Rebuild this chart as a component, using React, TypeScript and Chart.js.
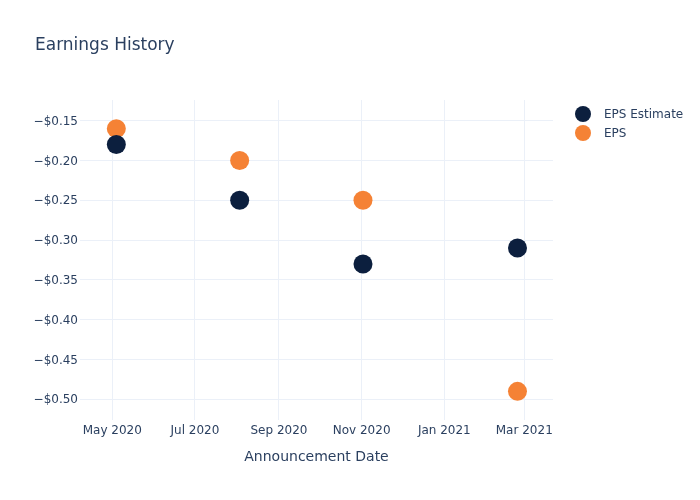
import React, { useEffect, useRef } from 'react';
import { Chart, registerables } from 'chart.js';

Chart.register(...registerables);

// ---- Data ----
const announcementDates = ['2020-05-04', '2020-08-03', '2020-11-02', '2021-02-24'];
const epsEstimate = [-0.18, -0.25, -0.33, -0.31];
const epsActual = [-0.16, -0.2, -0.25, -0.49];
const seriesNames = ['EPS Estimate', 'EPS'];
const yTickValues = [-0.5, -0.45, -0.4, -0.35, -0.3, -0.25, -0.2, -0.15];
const xTickDates = ['2020-05-01', '2020-07-01', '2020-09-01', '2020-11-01', '2021-01-01', '2021-03-01'];
const monthNames = ['Jan', 'Feb', 'Mar', 'Apr', 'May', 'Jun', 'Jul', 'Aug', 'Sep', 'Oct', 'Nov', 'Dec'];
const chartTitle = 'Earnings History';
const xAxisTitle = 'Announcement Date';

// ---- Styles ----
const seriesColors = ['#0c1f3e', '#f58235'];
const textColor = '#2a3f5f';
const gridColor = '#ebf0f8';
const fontFamily = '"DejaVu Sans", Verdana, sans-serif';

const DAY = 86400000;
const xMin = Date.parse('2020-05-01') - 23.8 * DAY;
const xMax = Date.parse('2021-03-01') + 21.2 * DAY;
const yMin = -0.526;
const yMax = -0.124;

const toPoints = (vals: number[]) =>
  vals.map((v, i) => ({ x: Date.parse(announcementDates[i]), y: v }));

const fmtMoney = (v: number) => {
  const s = '$' + Math.abs(v).toFixed(2);
  return v < 0 ? '\u2212' + s : s;
};

const decorPlugin = {
  id: 'decor',
  afterDraw(chart: any) {
    const ctx = chart.ctx as CanvasRenderingContext2D;
    ctx.save();
    ctx.fillStyle = textColor;
    ctx.font = `17px ${fontFamily}`;
    ctx.textAlign = 'left';
    ctx.textBaseline = 'alphabetic';
    ctx.fillText(chartTitle, 35, 50);

    const legendY = [114, 133];
    seriesNames.forEach((name, i) => {
      ctx.beginPath();
      ctx.arc(583, legendY[i], 8, 0, Math.PI * 2);
      ctx.fillStyle = seriesColors[i];
      ctx.fill();
      ctx.fillStyle = textColor;
      ctx.font = `12px ${fontFamily}`;
      ctx.textBaseline = 'middle';
      ctx.fillText(name, 604, legendY[i] + 1);
    });
    ctx.restore();
  },
};

export default function App() {
  const canvasRef = useRef<HTMLCanvasElement | null>(null);

  useEffect(() => {
    if (!canvasRef.current) return;
    const chart = new Chart(canvasRef.current, {
      type: 'scatter',
      data: {
        datasets: [
          {
            label: seriesNames[0],
            data: toPoints(epsEstimate),
            backgroundColor: seriesColors[0],
            borderWidth: 0,
            pointRadius: 9.5,
            pointHoverRadius: 9.5,
          },
          {
            label: seriesNames[1],
            data: toPoints(epsActual),
            backgroundColor: seriesColors[1],
            borderWidth: 0,
            pointRadius: 9.5,
            pointHoverRadius: 9.5,
          },
        ],
      },
      options: {
        responsive: false,
        animation: false,
        devicePixelRatio: 1,
        layout: { padding: { left: 0, right: 147, top: 100, bottom: 0 } },
        plugins: {
          legend: { display: false },
          title: { display: false },
          tooltip: { enabled: false },
        },
        scales: {
          x: {
            type: 'linear',
            min: xMin,
            max: xMax,
            afterBuildTicks: (scale: any) => {
              scale.ticks = xTickDates.map((d) => ({ value: Date.parse(d) }));
            },
            afterFit: (scale: any) => {
              scale.height = 80;
            },
            grid: { color: gridColor, lineWidth: 1, drawTicks: false },
            border: { display: false },
            ticks: {
              autoSkip: false,
              maxRotation: 0,
              padding: 4,
              color: textColor,
              font: { family: fontFamily, size: 12 },
              callback: (v: any) => {
                const d = new Date(Number(v));
                return `${monthNames[d.getUTCMonth()]} ${d.getUTCFullYear()}`;
              },
            },
            title: {
              display: true,
              text: xAxisTitle,
              color: textColor,
              font: { family: fontFamily, size: 14 },
              padding: { top: 0, bottom: 34.6 },
            },
          },
          y: {
            type: 'linear',
            min: yMin,
            max: yMax,
            afterBuildTicks: (scale: any) => {
              scale.ticks = yTickValues.map((v) => ({ value: v }));
            },
            afterFit: (scale: any) => {
              scale.width = 80;
            },
            grid: { color: gridColor, lineWidth: 1, drawTicks: false },
            border: { display: false },
            ticks: {
              padding: 2,
              labelOffset: 1,
              color: textColor,
              font: { family: fontFamily, size: 12 },
              callback: (v: any) => fmtMoney(Number(v)),
            },
          },
        },
      },
      plugins: [decorPlugin],
    } as any);
    return () => chart.destroy();
  }, []);

  return (
    <div style={{ position: 'absolute', left: 0, top: 0, width: 700, height: 500, background: '#fff' }}>
      <canvas ref={canvasRef} width={700} height={500} style={{ display: 'block' }} />
    </div>
  );
}
